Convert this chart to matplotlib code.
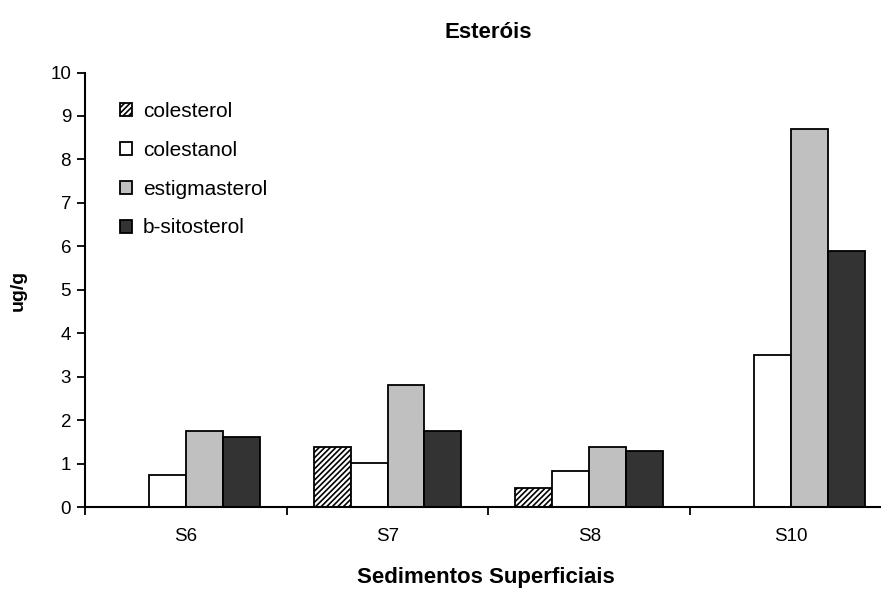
import numpy as np
import matplotlib.pyplot as plt

plt.rcParams['font.family'] = ['Liberation Sans', 'DejaVu Sans']
plt.rcParams['hatch.linewidth'] = 1.2

# sediment samples and sterol concentrations (ug/g)
samples = ['S6', 'S7', 'S8', 'S10']
series = ['colesterol', 'colestanol', 'estigmasterol', 'b-sitosterol']
colesterol = [0.0, 1.38, 0.44, 0.0]
colestanol = [0.74, 1.02, 0.84, 3.5]
estigmasterol = [1.75, 2.80, 1.38, 8.70]
sitosterol = [1.62, 1.75, 1.29, 5.89]

values = [colesterol, colestanol, estigmasterol, sitosterol]
colors = ['white', 'white', '#c0c0c0', '#333333']
hatches = ['//////', None, None, None]

fig = plt.figure(figsize=(8.81, 5.91), dpi=100)
ax = fig.add_axes([85 / 881, 84 / 591, 806.7 / 881, 434.5 / 591])

x = np.arange(len(samples))
w = 0.1833
for i, (name, vals) in enumerate(zip(series, values)):
    pos = x + (i - 1.5) * w
    vals = np.array(vals)
    # skip zero-height bars so no outline shows on the axis
    keep = vals > 0
    ax.bar(pos[keep], vals[keep], width=w, color=colors[i], edgecolor='black',
           linewidth=1.3, hatch=hatches[i], label=name)

ax.set_xlim(-0.5, 3.5)
ax.set_ylim(0, 10)
ax.set_yticks(range(0, 11))
ax.set_xticks(x)
ax.set_xticklabels(samples)
ax.set_xticks(np.arange(-0.5, 4, 1), minor=True)
ax.tick_params(axis='x', which='major', length=0, pad=15, labelsize=13.5)
ax.tick_params(axis='x', which='minor', length=6, width=1.3, direction='out')
ax.tick_params(axis='y', length=6, width=1.3, direction='out', pad=4, labelsize=13.5)

for s in ['top', 'right']:
    ax.spines[s].set_visible(False)
for s in ['left', 'bottom']:
    ax.spines[s].set_linewidth(1.5)

# title and axis titles placed in figure coordinates
fig.text(488 / 881, 1 - 32 / 591, 'Esteróis', fontsize=16, fontweight='bold',
         ha='center', va='center')
fig.text(486 / 881, 1 - 577 / 591, 'Sedimentos Superficiais', fontsize=16,
         fontweight='bold', ha='center', va='center')
fig.text(18 / 881, 1 - 290 / 591, 'ug/g', fontsize=14, fontweight='bold',
         rotation=90, ha='center', va='center')

ax.legend(loc='upper left', bbox_to_anchor=(0.02, 0.975), frameon=False,
          fontsize=15, handlelength=0.6, handleheight=0.6,
          handletextpad=0.5, labelspacing=0.95)

fig.savefig('out.png', dpi=100)
